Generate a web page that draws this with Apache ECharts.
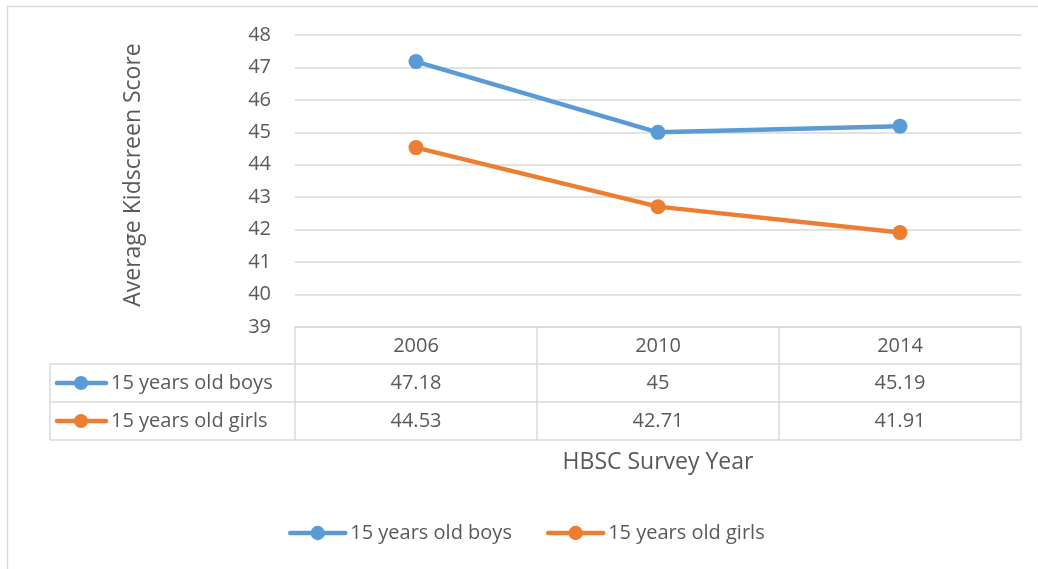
<!DOCTYPE html>
<html>
<head>
<meta charset="utf-8">
<script src="https://cdn.jsdelivr.net/npm/echarts@6/dist/echarts.min.js"></script>
<style>
  html, body { margin: 0; padding: 0; background: #fff; }
  #chart { width: 1038px; height: 569px; }
</style>
</head>
<body>
<div id="chart"></div>
<script>
// Survey years and average Kidscreen scores
const years = ['2006', '2010', '2014'];
const boysName = '15 years old boys';
const girlsName = '15 years old girls';
const boys = [47.18, 45, 45.19];
const girls = [44.53, 42.71, 41.91];
const seriesList = [
  { name: boysName, values: boys, color: '#5B9BD5' },
  { name: girlsName, values: girls, color: '#ED7D31' }
];

const FONT = '"Open Sans", sans-serif';
const TEXT = '#595959';
const RULE = '#d9d9d9';
const FS = 20;       // tick, table and legend text
const TITLE_FS = 23; // axis titles

const grid = { left: 295, right: 17, top: 35, bottom: 242 };
const rowH = 38;         // data table row height
const headerH = 37;      // header (year) row height
const tableLeft = 50;

const chart = echarts.init(document.getElementById('chart'));

chart.setOption({
  backgroundColor: '#fff',
  animation: false,
  textStyle: { fontFamily: FONT },
  grid: grid,
  legend: {
    top: 523,
    left: 288,
    padding: 0,
    itemWidth: 55,
    itemHeight: 18,
    itemGap: 34,
    lineStyle: { width: 4.5 },
    textStyle: { fontFamily: FONT, fontSize: FS, color: TEXT },
    data: seriesList.map(s => s.name)
  },
  xAxis: {
    type: 'category',
    data: years,
    boundaryGap: true,
    name: 'HBSC Survey Year',
    nameLocation: 'middle',
    nameGap: 124,
    nameTextStyle: { fontFamily: FONT, fontSize: TITLE_FS, color: TEXT },
    axisLine: { show: true, lineStyle: { color: RULE, width: 1.5 } },
    axisTick: { show: true, interval: 0, length: headerH + 2 * rowH, lineStyle: { color: RULE, width: 1.5 } },
    axisLabel: { margin: 9, fontFamily: FONT, fontSize: FS, color: TEXT },
    splitLine: { show: false }
  },
  yAxis: {
    type: 'value',
    min: 39,
    max: 48,
    interval: 1,
    name: 'Average Kidscreen Score',
    nameLocation: 'middle',
    nameGap: 150,
    nameRotate: 90,
    nameTextStyle: { fontFamily: FONT, fontSize: TITLE_FS, color: TEXT, padding: [0, 0, 0, 12] },
    axisLine: { show: false },
    axisTick: { show: false },
    axisLabel: { margin: 24, fontFamily: FONT, fontSize: FS, color: TEXT },
    splitLine: { show: true, lineStyle: { color: RULE, width: 1.5 } }
  },
  series: seriesList.map(s => ({
    name: s.name,
    type: 'line',
    data: s.values,
    symbol: 'circle',
    symbolSize: 15,
    lineStyle: { color: s.color, width: 4.5, cap: 'round' },
    itemStyle: { color: s.color },
    z: 3
  }))
});

// Data table beneath the plot: series key, name and one value per year
function buildTable() {
  const plotBottom = chart.getHeight() - grid.bottom;
  const plotRight = chart.getWidth() - grid.right;
  const els = [];

  // outer chart frame
  els.push({ type: 'rect', shape: { x: 7.5, y: 6.5, width: 1060, height: 600 },
    style: { fill: 'none', stroke: RULE, lineWidth: 1.5 }, silent: true, z: -1 });

  const rowTop = plotBottom + headerH;
  for (let r = 0; r <= seriesList.length; r++) {
    const y = rowTop + r * rowH;
    els.push({ type: 'line', shape: { x1: tableLeft, y1: y, x2: plotRight, y2: y },
      style: { stroke: RULE, lineWidth: 1.5 }, silent: true });
  }
  els.push({ type: 'line', shape: { x1: tableLeft, y1: rowTop, x2: tableLeft, y2: rowTop + seriesList.length * rowH },
    style: { stroke: RULE, lineWidth: 1.5 }, silent: true });

  seriesList.forEach((s, r) => {
    const cy = rowTop + r * rowH + rowH / 2;
    // legend key: line with marker
    els.push({ type: 'line', shape: { x1: 57, y1: cy, x2: 106, y2: cy },
      style: { stroke: s.color, lineWidth: 4.5, lineCap: 'round' }, silent: true });
    els.push({ type: 'circle', shape: { cx: 81, cy: cy, r: 7 },
      style: { fill: s.color }, silent: true });
    els.push({ type: 'text', x: 111, y: cy,
      style: { text: s.name, fontFamily: FONT, fontSize: FS, fill: TEXT, verticalAlign: 'middle', align: 'left' },
      silent: true });
    s.values.forEach((v, i) => {
      const x = chart.convertToPixel({ xAxisIndex: 0 }, years[i]);
      els.push({ type: 'text', x: x, y: cy,
        style: { text: String(v), fontFamily: FONT, fontSize: FS, fill: TEXT, verticalAlign: 'middle', align: 'center' },
        silent: true });
    });
  });

  chart.setOption({ graphic: { elements: els } });
}
buildTable();
</script>
</body>
</html>
